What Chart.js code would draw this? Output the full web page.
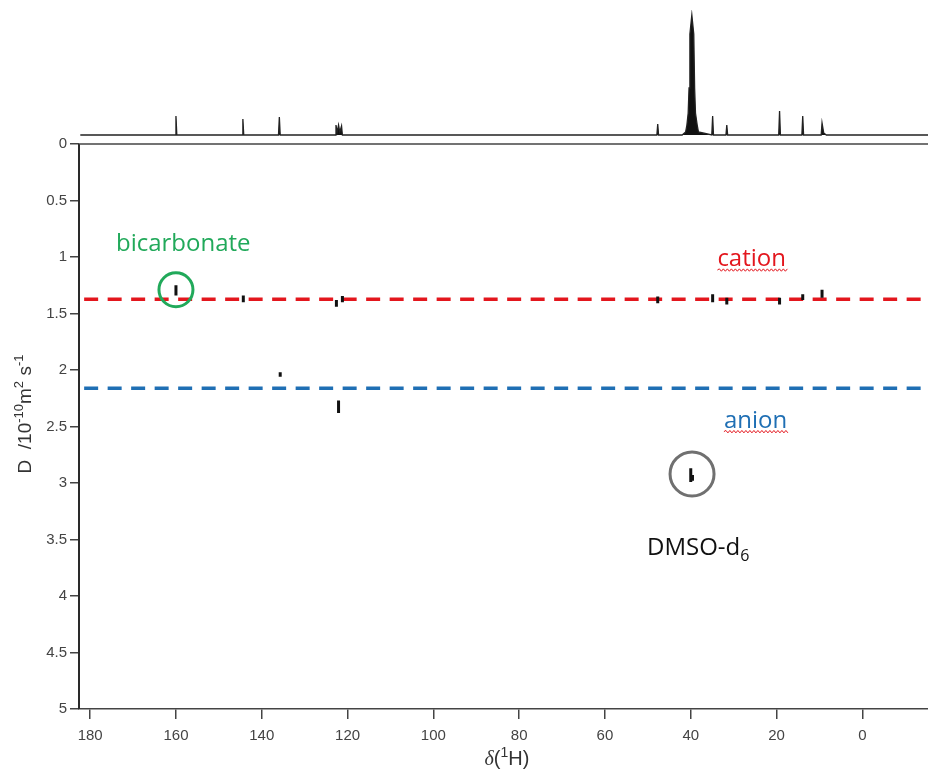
<!DOCTYPE html>
<html>
<head>
<meta charset="utf-8">
<script src="https://cdn.jsdelivr.net/npm/chart.js@4.4.0/dist/chart.umd.min.js"></script>
<style>
  html, body { margin: 0; padding: 0; background: #fff; }
  #dosy { display: block; }
</style>
</head>
<body>
<canvas id="dosy" width="928" height="776"></canvas>
<script>
// tick labels
const xTicks = [180, 160, 140, 120, 100, 80, 60, 40, 20, 0];
const yTicks = [0, 0.5, 1, 1.5, 2, 2.5, 3, 3.5, 4, 4.5, 5];

// 1D projection on top: chemical shift and intensity (arbitrary units)
const specShift = [182.3, 160.2, 160.0, 159.8, 144.6, 144.4, 144.2, 136.1, 135.9, 135.7,
  122.9, 122.7, 122.4, 122.1, 121.8, 121.4, 121.2, 47.9, 47.7, 47.5,
  42.0, 41.2, 40.9, 40.6, 40.4, 40.2, 39.75, 39.3, 39.1, 38.9, 38.5, 38.2,
  35.1, 34.9, 34.7, 31.8, 31.6, 31.4, 19.5, 19.3, 19.1, 14.1, 13.9, 13.7,
  9.6, 9.4, 9.0, 8.4, -15.3];
const specInt = [0, 0, 19, 0, 0, 16, 0, 0, 18, 0,
  0, 10, 3, 10, 3, 9, 0, 0, 11, 0,
  0, 3, 10, 22, 47, 101, 120, 101, 47, 22, 10, 3,
  0, 19, 0, 0, 10, 0, 0, 24, 0, 0, 19, 0,
  0, 12, 2, 0, 0];

// DOSY cross peaks: shift and the D range each contour covers (10^-10 m2/s)
const crossShift = [160.0, 144.3, 122.6, 121.2, 135.7, 122.1, 47.7, 34.9, 31.6, 19.3, 13.9, 9.4, 40.0, 39.6];
const crossDTop = [1.25, 1.34, 1.38, 1.345, 2.02, 2.27, 1.35, 1.33, 1.36, 1.36, 1.33, 1.29, 2.87, 2.93];
const crossDBottom = [1.34, 1.40, 1.44, 1.40, 2.06, 2.38, 1.41, 1.40, 1.42, 1.42, 1.38, 1.36, 2.99, 2.98];

// diffusion levels of the two ions
const cationD = 1.374;
const anionD = 2.162;
const lineFrom = 181.4;
const lineTo = -15.3;

// circled signals
const bicarbCircle = [{x: 160.0, y: 1.29}];
const dmsoCircle = [{x: 39.7, y: 2.92}];

// build the contour segments, a null point between each one breaks the line
const crossData = [];
crossShift.forEach((s, i) => {
  crossData.push({x: s, y: crossDTop[i]});
  crossData.push({x: s, y: crossDBottom[i]});
  crossData.push({x: s, y: null});
});

const specData = specShift.map((s, i) => ({x: s, y: specInt[i]}));

function drawRich(ctx, parts, x, y, align) {
  let total = 0;
  parts.forEach(p => {
    ctx.font = p.font;
    p.w = ctx.measureText(p.text).width;
    total += p.w;
  });
  let cx = align === 'center' ? x - total / 2 : x;
  ctx.textAlign = 'left';
  ctx.textBaseline = 'alphabetic';
  parts.forEach(p => {
    ctx.font = p.font;
    ctx.fillText(p.text, cx, y + (p.dy || 0));
    cx += p.w;
  });
}

function squiggle(ctx, x0, x1, y) {
  ctx.beginPath();
  ctx.moveTo(x0, y);
  let up = true;
  for (let xx = x0 + 2; xx <= x1; xx += 2) {
    ctx.lineTo(xx, y + (up ? -1.2 : 1.2));
    up = !up;
  }
  ctx.stroke();
}

// no extra padding for half tick labels, the chart area is fixed
function noPad(s) {
  s.paddingTop = 0;
  s.paddingBottom = 0;
  s.paddingLeft = 0;
  s.paddingRight = 0;
}

const sans = 'Liberation Sans, Arial, sans-serif';
const note = '"Open Sans", sans-serif';

const framePlugin = {
  id: 'framePlugin',
  afterDraw(chart) {
    const {ctx, chartArea: a, scales} = chart;
    const x = scales.x, y = scales.y;
    ctx.save();

    // left spine runs only over the DOSY part, plus the top line at D = 0
    ctx.strokeStyle = '#2a2a2a';
    ctx.lineWidth = 2;
    ctx.beginPath();
    ctx.moveTo(a.left, y.getPixelForValue(0));
    ctx.lineTo(a.left, y.getPixelForValue(5));
    ctx.stroke();
    ctx.strokeStyle = '#444';
    ctx.lineWidth = 1.5;
    ctx.beginPath();
    ctx.moveTo(a.left, y.getPixelForValue(0));
    ctx.lineTo(a.right, y.getPixelForValue(0));
    ctx.stroke();

    // axis titles
    ctx.fillStyle = '#333';
    ctx.save();
    ctx.translate(24, 414);
    ctx.rotate(-Math.PI / 2);
    drawRich(ctx, [
      {text: 'D  /10', font: '19px ' + sans},
      {text: '-10', font: '13px ' + sans, dy: -8},
      {text: 'm', font: '19px ' + sans},
      {text: '2', font: '13px ' + sans, dy: -8},
      {text: ' s', font: '19px ' + sans},
      {text: '-1', font: '13px ' + sans, dy: -8}
    ], 0, 7, 'center');
    ctx.restore();
    drawRich(ctx, [
      {text: 'δ', font: 'italic 20px "Liberation Serif", serif'},
      {text: '(', font: '20px ' + sans},
      {text: '1', font: '14px ' + sans, dy: -8},
      {text: 'H)', font: '20px ' + sans}
    ], 507, 765, 'center');

    // annotations
    ctx.textAlign = 'center';
    ctx.textBaseline = 'middle';
    ctx.font = '24px ' + note;
    ctx.fillStyle = '#21a95a';
    ctx.fillText('bicarbonate', x.getPixelForValue(158.3), y.getPixelForValue(0.885));
    ctx.fillStyle = '#e3161d';
    const cx = x.getPixelForValue(25.8), cy = y.getPixelForValue(1.018);
    ctx.fillText('cation', cx, cy);
    ctx.fillStyle = '#1f6fb4';
    const ax = x.getPixelForValue(24.9), ay = y.getPixelForValue(2.457);
    ctx.fillText('anion', ax, ay);

    // spell-check style underline, as in the source
    ctx.strokeStyle = '#e3161d';
    ctx.lineWidth = 1;
    const cw = ctx.measureText('cation').width;
    squiggle(ctx, cx - cw / 2, cx + cw / 2 + 2, cy + 11);
    const aw = ctx.measureText('anion').width;
    squiggle(ctx, ax - aw / 2, ax + aw / 2 + 2, ay + 10);

    ctx.fillStyle = '#111';
    drawRich(ctx, [
      {text: 'DMSO-d', font: '24px ' + note},
      {text: '6', font: '16px ' + note, dy: 6}
    ], x.getPixelForValue(50.2), y.getPixelForValue(3.566) + 8, 'left');

    ctx.restore();
  }
};

const ctx = document.getElementById('dosy').getContext('2d');
new Chart(ctx, {
  type: 'scatter',
  data: {
    datasets: [
      {
        label: 'contours',
        data: crossData,
        showLine: true,
        spanGaps: false,
        borderColor: '#111',
        borderWidth: 3,
        borderCapStyle: 'butt',
        pointRadius: 0
      },
      {
        label: 'bicarbonate',
        data: bicarbCircle,
        pointStyle: 'circle',
        pointRadius: 17,
        borderWidth: 3,
        borderColor: '#21a95a',
        backgroundColor: 'rgba(0,0,0,0)'
      },
      {
        label: 'DMSO',
        data: dmsoCircle,
        pointStyle: 'circle',
        pointRadius: 22,
        borderWidth: 3,
        borderColor: '#707070',
        backgroundColor: 'rgba(0,0,0,0)'
      },
      {
        label: 'cation',
        data: [{x: lineFrom, y: cationD}, {x: lineTo, y: cationD}],
        showLine: true,
        borderColor: '#e3161d',
        borderWidth: 3.5,
        borderDash: [14, 9.5],
        borderCapStyle: 'butt',
        pointRadius: 0
      },
      {
        label: 'anion',
        data: [{x: lineFrom, y: anionD}, {x: lineTo, y: anionD}],
        showLine: true,
        borderColor: '#1f6fb4',
        borderWidth: 3.5,
        borderDash: [14, 9.5],
        borderCapStyle: 'butt',
        pointRadius: 0
      },
      {
        label: 'projection',
        data: specData,
        yAxisID: 'yS',
        showLine: true,
        borderColor: '#222',
        borderWidth: 1.3,
        backgroundColor: '#111',
        fill: 'origin',
        pointRadius: 0
      }
    ]
  },
  options: {
    responsive: false,
    animation: false,
    layout: {autoPadding: false, padding: {top: 10, right: 0, left: 0, bottom: 0}},
    plugins: {
      legend: {display: false},
      tooltip: {enabled: false}
    },
    scales: {
      x: {
        type: 'linear',
        reverse: true,
        min: -15.3,
        max: 182.6,
        afterBuildTicks: s => { s.ticks = xTicks.map(v => ({value: v})); },
        afterFit: s => { s.height = 67; noPad(s); },
        grid: {drawOnChartArea: false, drawTicks: true, tickLength: 10, color: '#444', lineWidth: 1.5},
        border: {display: true, color: '#444', width: 1.5},
        ticks: {color: '#444', font: {family: sans, size: 15}, padding: 8, maxRotation: 0, autoSkip: false,
          callback: v => String(v)}
      },
      y: {
        type: 'linear',
        reverse: true,
        min: -1.186,
        max: 5,
        afterBuildTicks: s => { s.ticks = yTicks.map(v => ({value: v})); },
        afterFit: s => { s.width = 79; noPad(s); },
        grid: {drawOnChartArea: false, drawTicks: true, tickLength: 9, color: '#444', lineWidth: 1.5},
        border: {display: false},
        ticks: {color: '#444', font: {family: sans, size: 15}, padding: 3, autoSkip: false,
          callback: v => String(v)}
      },
      yS: {
        type: 'linear',
        display: false,
        position: 'left',
        min: -574,
        max: 125
      }
    }
  },
  plugins: [framePlugin]
});
</script>
</body>
</html>
